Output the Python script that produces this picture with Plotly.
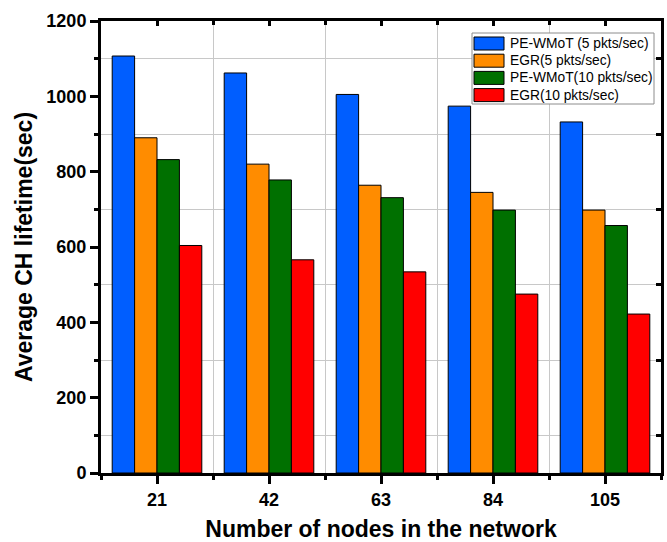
import plotly.graph_objects as go

# Network sizes (x categories) and average cluster-head lifetime per scheme
nodes = ["21", "42", "63", "84", "105"]
series_names = ["PE-WMoT (5 pkts/sec)", "EGR(5 pkts/sec)", "PE-WMoT(10 pkts/sec)", "EGR(10 pkts/sec)"]
pe_wmot_5 = [1107, 1062, 1005, 974, 932]
egr_5 = [890, 820, 764, 745, 698]
pe_wmot_10 = [832, 778, 731, 698, 657]
egr_10 = [604, 566, 534, 475, 422]
colors = ["#005EFF", "#FF8C00", "#007000", "#FF0000"]

y_major = [0, 200, 400, 600, 800, 1000, 1200]

# plot-area geometry in pixels
W, H = 667, 542
ML, MR, MT, MB = 101, 6, 21, 69
PW, PH = W - ML - MR, H - MT - MB


def px_x(px):
    return (px - ML) / PW


def px_y(py):
    return (H - MB - py) / PH


positions = list(range(len(nodes)))
fig = go.Figure()
for name, vals, col in zip(series_names, [pe_wmot_5, egr_5, pe_wmot_10, egr_10], colors):
    fig.add_trace(go.Bar(
        x=positions, y=vals, name=name, showlegend=False,
        marker=dict(color=col, line=dict(color="black", width=1)),
    ))

# empty trace so the top/right mirror axes get drawn
fig.add_trace(go.Scatter(x=[], y=[], xaxis="x2", yaxis="y2", showlegend=False, hoverinfo="skip"))

tick_font = dict(family="Liberation Sans, Arial", size=18, color="black")
title_font = dict(family="Liberation Sans, Arial", size=23, color="black")
xr = [-0.5, len(nodes) - 0.5]
yr = [0, 1200]

# boxed legend with wide colour swatches
shapes = [dict(type="rect", xref="paper", yref="paper",
               x0=px_x(472), x1=px_x(654), y0=px_y(104), y1=px_y(33),
               fillcolor="white", line=dict(color="#8C8C8C", width=1), layer="above")]
annotations = []
for i, (name, col) in enumerate(zip(series_names, colors)):
    cy = 43.5 + 17.2 * i
    shapes.append(dict(type="rect", xref="paper", yref="paper",
                       x0=px_x(474), x1=px_x(504), y0=px_y(cy + 6.5), y1=px_y(cy - 6.5),
                       fillcolor=col, line=dict(color="black", width=1), layer="above"))
    annotations.append(dict(xref="paper", yref="paper", x=px_x(508), y=px_y(cy),
                            xanchor="left", yanchor="middle", showarrow=False, text=name,
                            font=dict(family="Liberation Sans, Arial", size=13.8, color="black")))

fig.update_layout(
    width=W, height=H,
    margin=dict(l=ML, r=MR, t=MT, b=MB, autoexpand=False),
    paper_bgcolor="white", plot_bgcolor="white",
    barmode="group", bargap=0.2, bargroupgap=0,
    font=dict(family="Liberation Sans, Arial", color="black"),
    xaxis=dict(
        range=xr, tickmode="array", tickvals=positions, ticktext=[f"<b>{n}</b>" for n in nodes],
        tickfont=tick_font, ticks="outside", ticklen=8, tickwidth=3, tickcolor="black",
        showline=True, linewidth=3, linecolor="black", showgrid=False, zeroline=False, automargin=False,
        minor=dict(tick0=0.5, dtick=1, ticks="outside", ticklen=4, tickwidth=3, tickcolor="black",
                   showgrid=True, gridcolor="#C8C8C8", gridwidth=1),
        title=dict(text="<b>Number of nodes in the network</b>", font=title_font, standoff=16),
    ),
    yaxis=dict(
        range=yr, tickmode="array", tickvals=y_major, ticktext=[f"<b>{v}</b>" for v in y_major],
        tickfont=tick_font, ticks="outside", ticklen=8, tickwidth=3, tickcolor="black",
        showline=True, linewidth=3, linecolor="black", showgrid=False, zeroline=False, automargin=False,
        minor=dict(tick0=100, dtick=200, ticks="outside", ticklen=4, tickwidth=3, tickcolor="black",
                   showgrid=True, gridcolor="#C8C8C8", gridwidth=1),
        title=dict(text="<b>Average CH lifetime(sec)</b>", font=title_font, standoff=8),
    ),
    xaxis2=dict(
        overlaying="x", side="top", range=xr, tickmode="array", tickvals=positions,
        showticklabels=False, ticks="inside", ticklen=5, tickwidth=3, tickcolor="black",
        showline=True, linewidth=3, linecolor="black", showgrid=False, zeroline=False, automargin=False,
        minor=dict(tick0=0.5, dtick=1, ticks="inside", ticklen=4, tickwidth=3, tickcolor="black", showgrid=False),
    ),
    yaxis2=dict(
        overlaying="y", side="right", range=yr, tickmode="array", tickvals=[100, 300, 500, 700, 900, 1100],
        showticklabels=False, ticks="inside", ticklen=5, tickwidth=3, tickcolor="black",
        showline=True, linewidth=3, linecolor="black", showgrid=False, zeroline=False, automargin=False,
    ),
    shapes=shapes,
    annotations=annotations,
    showlegend=False,
)

fig.write_html("out.html")
